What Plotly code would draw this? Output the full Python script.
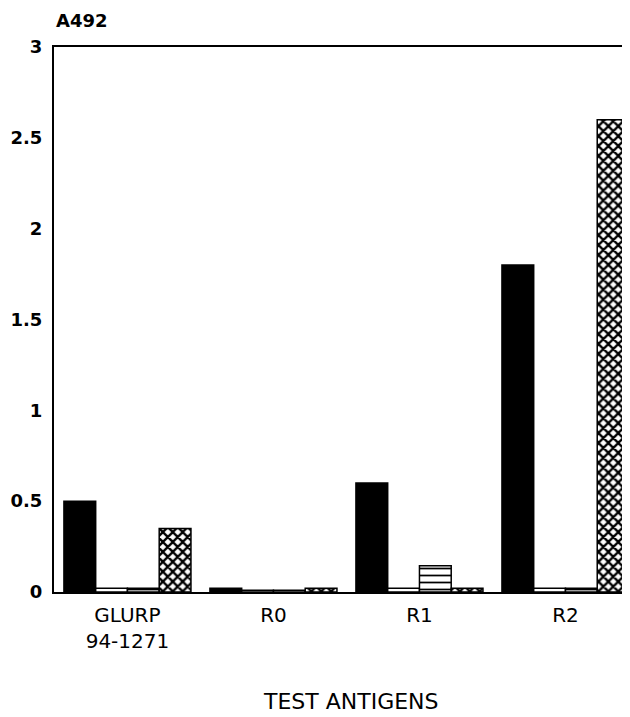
import plotly.graph_objects as go

categories = ["GLURP<br>94-1271", "R0", "R1", "R2"]
series_names = ["Serum A", "Serum B", "Serum C", "Serum D"]
series_solid = [0.50, 0.02, 0.60, 1.80]
series_open = [0.02, 0.01, 0.02, 0.02]
series_lines = [0.02, 0.01, 0.145, 0.02]
series_cross = [0.35, 0.02, 0.02, 2.60]
y_ticks = [0, 0.5, 1, 1.5, 2, 2.5, 3]
y_tick_text = ["0", "0.5", "1", "1.5", "2", "2.5", "3"]

fig = go.Figure()
line = dict(color="black", width=1.5)
fig.add_bar(x=categories, y=series_solid, name=series_names[0],
            marker=dict(color="black", line=line))
fig.add_bar(x=categories, y=series_open, name=series_names[1],
            marker=dict(color="white", line=line))
fig.add_bar(x=categories, y=series_lines, name=series_names[2],
            marker=dict(color="white", line=line,
                        pattern=dict(shape="-", fgcolor="black", bgcolor="white",
                                     size=7, solidity=0.25, fillmode="replace")))
fig.add_bar(x=categories, y=series_cross, name=series_names[3],
            marker=dict(color="white", line=line,
                        pattern=dict(shape="x", fgcolor="black", bgcolor="white",
                                     size=7, solidity=0.55, fillmode="replace")))

fig.update_layout(
    width=622, height=709,
    margin=dict(l=46, r=0, t=39, b=125),
    barmode="group", bargap=0.13, bargroupgap=0,
    plot_bgcolor="white", paper_bgcolor="white",
    showlegend=False,
    font=dict(family="DejaVu Sans", color="black"),
    xaxis=dict(type="category", range=[-0.503, 3.442],
               showline=True, linecolor="black", linewidth=2, mirror=True,
               showgrid=False, ticks="", tickfont=dict(size=20, family="DejaVu Sans"),
               ticklabelstandoff=4),
    yaxis=dict(range=[0, 3], tickvals=y_ticks, ticktext=y_tick_text,
               showline=True, linecolor="black", linewidth=2,
               showgrid=False, zeroline=False, ticks="",
               tickfont=dict(size=18, family="DejaVu Sans", weight="bold"),
               ticklabelstandoff=6),
    annotations=[
        dict(text="A492", xref="paper", yref="paper", x=0.0, y=1.048,
             xanchor="left", yanchor="middle", showarrow=False,
             font=dict(size=18, family="DejaVu Sans", weight="bold")),
        dict(text="TEST ANTIGENS", xref="paper", yref="paper", x=0.516, y=-0.2,
             xanchor="center", yanchor="middle", showarrow=False,
             font=dict(size=22, family="DejaVu Sans")),
    ],
)

fig.write_html("out.html")
